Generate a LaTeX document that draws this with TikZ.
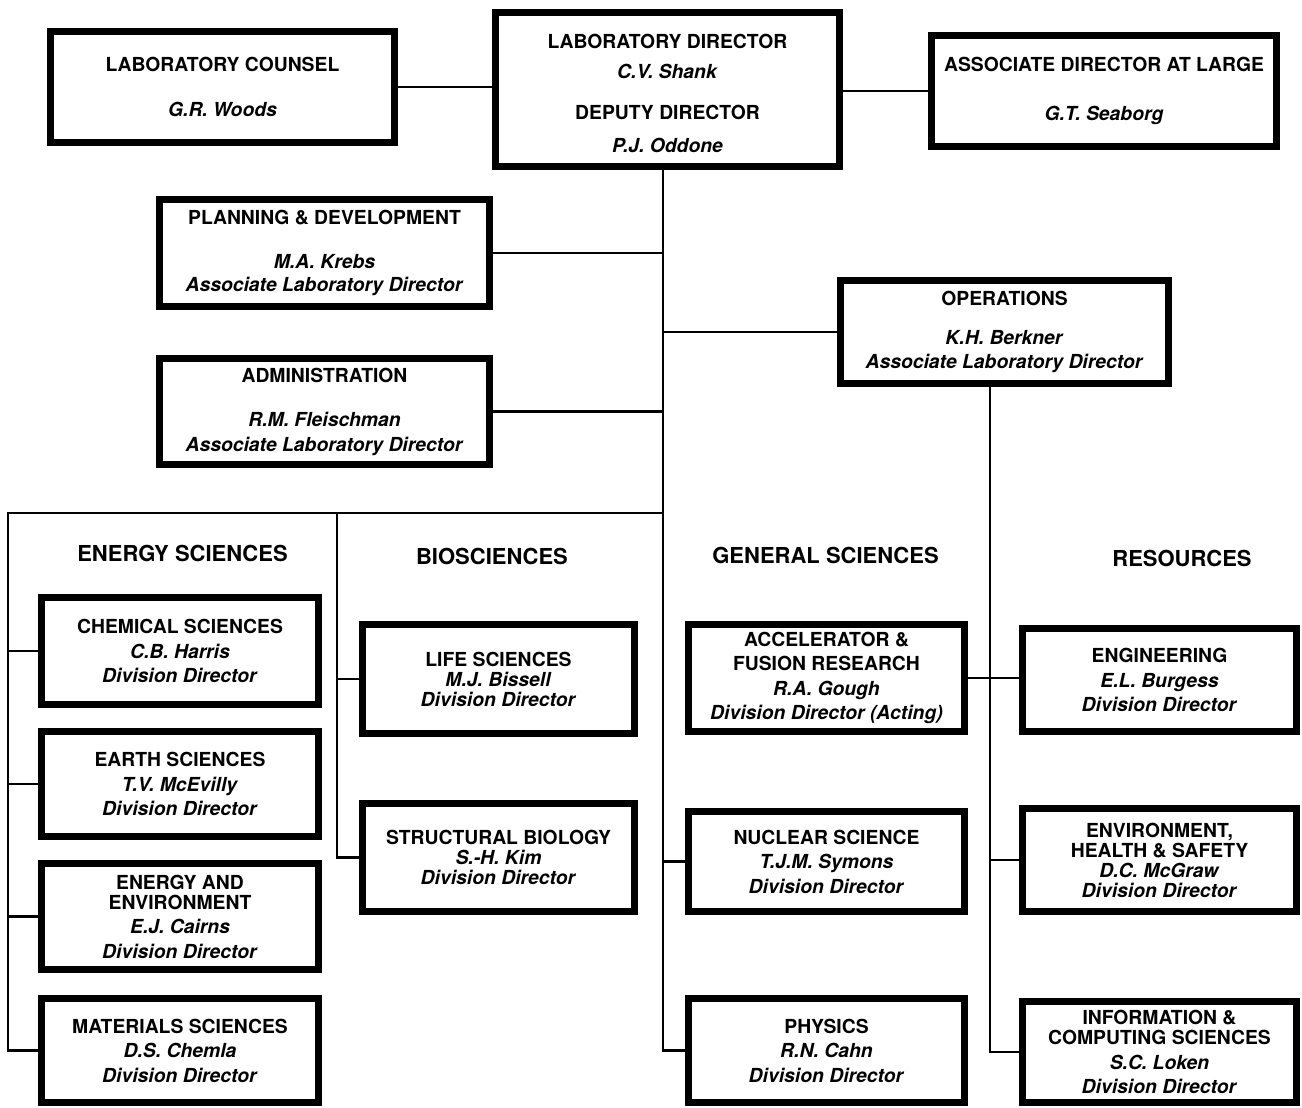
\documentclass[tikz,border=0pt]{standalone}
\usepackage{fontspec}
\setmainfont{TeX Gyre Heros}
\usepackage{tikz}

\newcommand\unitfont{\fontsize{14.5}{18.4}\selectfont\bfseries}
\newcommand\tightfont{\fontsize{14.5}{15}\selectfont\bfseries}
\newcommand\headfont{\fontsize{16.5}{20}\selectfont\bfseries}
\newcommand\person[1]{\textit{#1}}

\begin{document}
\begin{tikzpicture}[x=0.75pt,y=0.75pt,yscale=-1,xscale=1,
  unit/.style 2 args={draw, line width=5.25pt, inner sep=0pt, align=center,
    minimum width={#1*0.75pt-5.25pt}, minimum height={#2*0.75pt-5.25pt}, font=\unitfont},
  tight/.style={font=\tightfont},
  link/.style={line width=2pt},
  head/.style={inner sep=0pt, font=\headfont}]
\useasboundingbox (0,0) rectangle (1302,1107);

%Box: top row
\node [unit={351}{118}] (counsel) at (222.5,87) {LABORATORY COUNSEL\\[16pt]\person{G.R. Woods}};
\node [unit={351}{161}] (director) at (667.5,89.5) {\rule{0pt}{16.5pt}LABORATORY DIRECTOR\\[4pt]\person{C.V. Shank}\\[13pt]DEPUTY DIRECTOR\\[6pt]\person{P.J. Oddone}};
\node [unit={352}{118}] (atlarge) at (1104,91) {ASSOCIATE DIRECTOR AT LARGE\\[19pt]\person{G.T. Seaborg}};
%Box: associate laboratory directors
\node [unit={337}{114}] (planning) at (324.5,253) {PLANNING \& DEVELOPMENT\\[14pt]\person{M.A. Krebs}\\[-1pt]\person{Associate Laboratory Director}};
\node [unit={337}{113}] (admin) at (324.5,411.5) {ADMINISTRATION\\[15pt]\person{R.M. Fleischman}\\\person{Associate Laboratory Director}};
\node [unit={335}{110}] (ops) at (1004.5,332) {OPERATIONS\\[11pt]\person{K.H. Berkner}\\\person{Associate Laboratory Director}};

% Text Node
\node [head] (eshead) at (182.5,553) {ENERGY SCIENCES};
% Text Node
\node [head] (biohead) at (492,556) {BIOSCIENCES};
% Text Node
\node [head] (gshead) at (825.5,555) {GENERAL SCIENCES};
% Text Node
\node [head] (reshead) at (1182,558) {RESOURCES};

%Box: energy sciences
\node [unit={284}{114}] (chem) at (180,651) {CHEMICAL SCIENCES\\\person{C.B. Harris}\\\person{Division Director}};
\node [unit={284}{112}] (earth) at (180,784) {EARTH SCIENCES\\\person{T.V. McEvilly}\\\person{Division Director}};
\node [unit={284}{113}] (enen) at (180,916.5) {ENERGY AND\\[-3.4pt]ENVIRONMENT\\\person{E.J. Cairns}\\\person{Division Director}};
\node [unit={284}{111}] (matsci) at (180,1050.5) {MATERIALS SCIENCES\\\person{D.S. Chemla}\\\person{Division Director}};
%Box: biosciences
\node [unit={279}{116},tight] (life) at (498.5,679) {LIFE SCIENCES\\\person{M.J. Bissell}\\\person{Division Director}};
\node [unit={279}{115},tight] (strbio) at (498.5,857.5) {STRUCTURAL BIOLOGY\\\person{S.-H. Kim}\\\person{Division Director}};
%Box: general sciences
\node [unit={283}{114}] (accel) at (826.5,678) {ACCELERATOR \&\\FUSION RESEARCH\\\person{R.A. Gough}\\\person{Division Director (Acting)}};
\node [unit={283}{107}] (nuclear) at (826.5,861.5) {NUCLEAR SCIENCE\\\person{T.J.M. Symons}\\\person{Division Director}};
\node [unit={283}{111}] (physics) at (826.5,1050.5) {PHYSICS\\\person{R.N. Cahn}\\\person{Division Director}};
%Box: resources
\node [unit={281}{110}] (eng) at (1159.5,680) {ENGINEERING\\\person{E.L. Burgess}\\\person{Division Director}};
\node [unit={281}{110},tight] (ehs) at (1159.5,860) {ENVIRONMENT,\\HEALTH \& SAFETY\\\person{D.C. McGraw}\\\person{Division Director}};
\node [unit={281}{108}] (infocomp) at (1159.5,1052) {INFORMATION \&\\[-3.4pt]COMPUTING SCIENCES\\\person{S.C. Loken}\\\person{Division Director}};

%Lines: trunk and branches
\coordinate (spine) at (663,513);
\coordinate (esline) at (8,513);
\coordinate (bioline) at (337,513);
\coordinate (opsline) at (990,513);
\draw [link] (counsel.east) -- (counsel.east -| director.west);
\draw [link] (director.east |- atlarge.west) -- (atlarge.west);
\draw [link] (director.south -| spine) -- (spine |- physics.west) -- (physics.west);
\draw [link] (planning.east) -- (planning.east -| spine);
\draw [link] (admin.east) -- (admin.east -| spine);
\draw [link] (ops.west) -- (ops.west -| spine);
\draw [link] (spine) -- (esline) -- (esline |- matsci.west) -- (matsci.west);
\draw [link] (chem.west) -- (chem.west -| esline);
\draw [link] (earth.west) -- (earth.west -| esline);
\draw [link] (enen.west) -- (enen.west -| esline);
\draw [link] (bioline) -- (bioline |- strbio.west) -- (strbio.west);
\draw [link] (life.west) -- (life.west -| bioline);
\draw [link] (nuclear.west) -- (nuclear.west -| spine);
\draw [link] (ops.south -| opsline) -- (opsline |- infocomp.west) -- (infocomp.west);
\draw [link] (accel.east) -- (accel.east -| eng.west);
\draw [link] (ehs.west) -- (ehs.west -| opsline);

\end{tikzpicture}
\end{document}
